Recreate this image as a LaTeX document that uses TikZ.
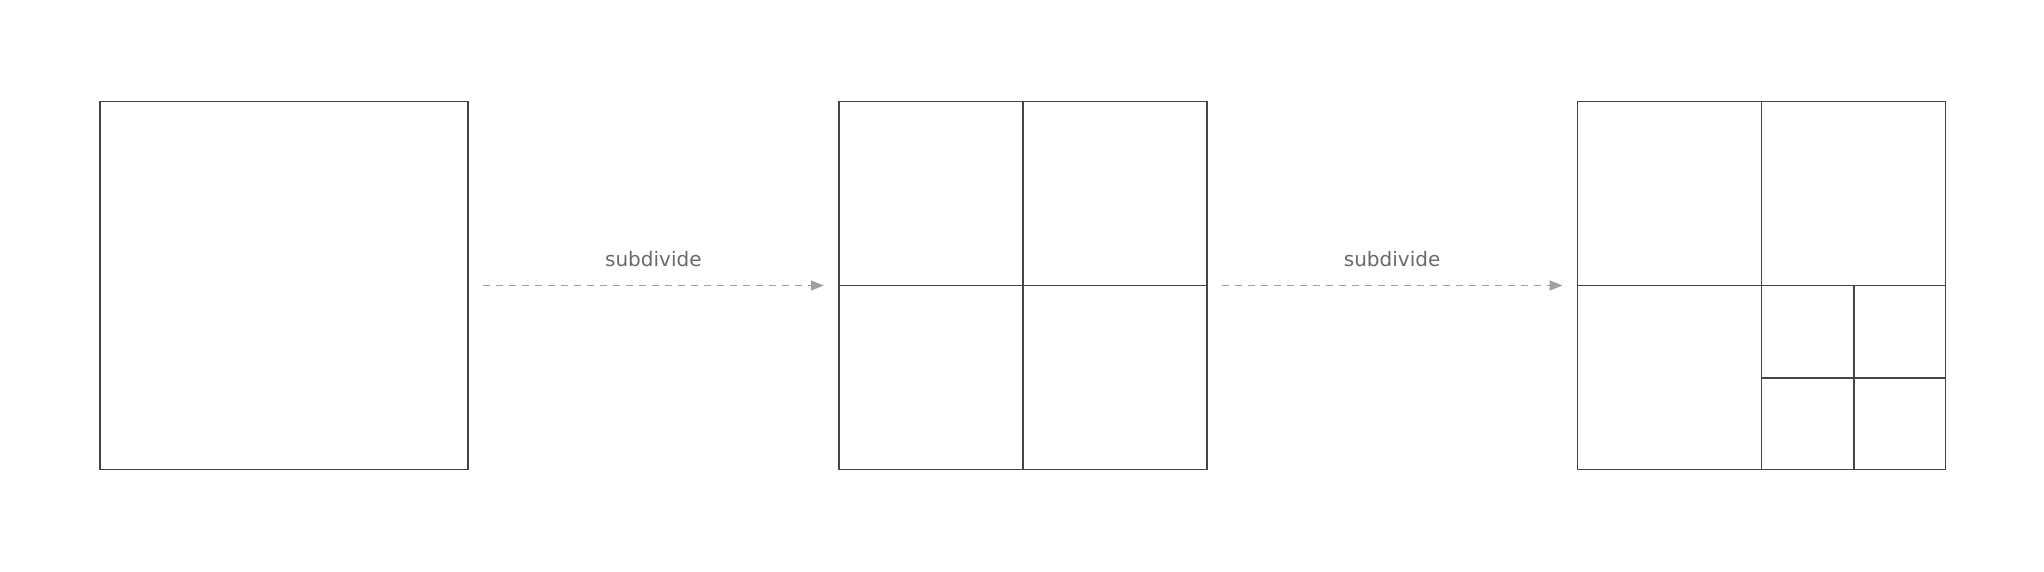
\documentclass[tikz,border=0pt]{standalone}
\usepackage{fontspec}
\setmainfont{DejaVu Sans}
\usetikzlibrary{arrows.meta,positioning,calc}
\definecolor{boxgray}{HTML}{454545}
\definecolor{arrowgray}{HTML}{A0A0A0}
\definecolor{textgray}{HTML}{6A6A6A}
\tikzstyle{Square} = [draw=boxgray, line width=1.7pt, rectangle, minimum size=368pt, inner sep=0pt]
\tikzstyle{Split} = [draw=boxgray, line width=1.7pt]
\tikzstyle{Step} = [draw=arrowgray, line width=1.5pt, dash pattern=on 7pt off 6pt,
  -{Triangle[length=13pt,width=10pt,fill=arrowgray]}, shorten <=14pt, shorten >=14pt]
\tikzstyle{Label} = [text=textgray, font=\fontsize{20}{24}\selectfont]

\begin{document}
\begin{tikzpicture}[x=1pt, y=1pt, node distance=369pt]
    \useasboundingbox (0,0) rectangle (2044,572);
    \node[Square] (whole)  at (284,286.5)    {};
    \node[Square] (quad)   [right=of whole]  {};
    \node[Square] (deeper) [right=of quad]   {};
    % first level
    \draw[Split] (quad.north) -- (quad.south);
    \draw[Split] (quad.west) -- (quad.east);
    \draw[Split] (deeper.north) -- (deeper.south);
    \draw[Split] (deeper.west) -- (deeper.east);
    % second level, lower right quadrant
    \coordinate (sub) at ($(deeper.center)!0.5!(deeper.south east)$);
    \draw[Split] (sub |- deeper.center) -- (sub |- deeper.south);
    \draw[Split] (sub -| deeper.center) -- (sub -| deeper.east);
    \draw[Step] (whole) to node[Label, midway, yshift=26.5pt] {subdivide} (quad);
    \draw[Step] (quad) to node[Label, midway, yshift=26.5pt] {subdivide} (deeper);
  \end{tikzpicture}
\end{document}
